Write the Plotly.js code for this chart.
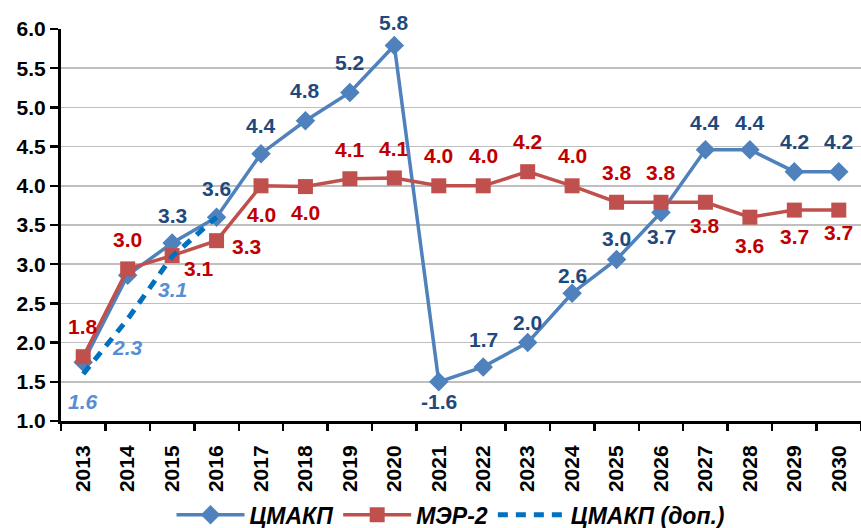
<!DOCTYPE html>
<html>
<head>
<meta charset="utf-8">
<script src="https://cdn.plot.ly/plotly-3.0.1.min.js"></script>
<style>
  html, body { margin: 0; padding: 0; background: #fff; }
  #plot { width: 861px; height: 528px; }
</style>
</head>
<body>
<div id="plot"></div>
<script>
const years = ['2013','2014','2015','2016','2017','2018','2019','2020','2021',
               '2022','2023','2024','2025','2026','2027','2028','2029','2030'];

// ЦМАКП (2021 shown clipped at the axis bottom, labelled -1.6)
const cmakp = [1.75, 2.86, 3.27, 3.6, 4.41, 4.83, 5.19, 5.79, 1.5,
               1.69, 2.0, 2.63, 3.06, 3.66, 4.46, 4.46, 4.18, 4.18];
const cmakpLabels = ['', '', '3.3', '3.6', '4.4', '4.8', '5.2', '5.8', '-1.6',
                     '1.7', '2.0', '2.6', '3.0', '3.7', '4.4', '4.4', '4.2', '4.2'];

// МЭР-2
const mer = [1.82, 2.94, 3.11, 3.3, 4.0, 3.99, 4.09, 4.1, 4.0,
             4.0, 4.18, 4.0, 3.79, 3.79, 3.79, 3.6, 3.69, 3.69];
const merLabels = ['1.8', '3.0', '3.1', '3.3', '4.0', '4.0', '4.1', '4.1', '4.0',
                   '4.0', '4.2', '4.0', '3.8', '3.8', '3.8', '3.6', '3.7', '3.7'];

// ЦМАКП (доп.)
const dopYears = ['2013', '2014', '2015', '2016'];
const dop = [1.6, 2.3, 3.1, 3.6];
const dopLabels = ['1.6', '2.3', '3.1', ''];

// label offsets in px (dx right, dy down)
const cmakpDy = [0, 0, -28, -29, -28, -30, -30, -23, 20, -27, -20, -18, -21, 24, -27, -27, -30, -30];
const merDx = [0, 0, 27, 30, 0, 0, 0, 0, 0, 0, 0, 0, 0, 0, 0, 0, 0, 0];
const merDy = [-30, -29, 13, 6, 29, 26, -29, -29, -30, -30, -30, -30, -30, -30, 23, 28, 26, 22];
const dopDy = [28, 28, 33, 0];

const FONT = 'Liberation Sans, Arial, sans-serif';
const BLUE = '#4F81BD', RED = '#C0504D', DASH = '#0070C0';

// annotations on a category axis take the category index
function labels(xs, ys, texts, dx, dy, color, style) {
  return texts.map((t, i) => ({
    x: years.indexOf(xs[i]), y: ys[i], text: t, showarrow: false,
    xshift: dx ? dx[i] : 0, yshift: -dy[i],
    font: { family: FONT, size: 21, color: color, weight: 'bold', style: style || 'normal' }
  })).filter(a => a.text !== '');
}

const annotations = [
  ...labels(years, cmakp, cmakpLabels, null, cmakpDy, '#1F497D'),
  ...labels(years, mer, merLabels, merDx, merDy, '#C00000'),
  ...labels(dopYears, dop, dopLabels, null, dopDy, '#558ED5', 'italic')
];

Plotly.newPlot('plot', [
  { x: years, y: cmakp, name: 'ЦМАКП', mode: 'lines+markers', cliponaxis: false,
    line: { color: BLUE, width: 3.5 },
    marker: { symbol: 'diamond', size: 15, color: BLUE } },
  { x: years, y: mer, name: 'МЭР-2', mode: 'lines+markers', cliponaxis: false,
    line: { color: RED, width: 3.5 },
    marker: { symbol: 'square', size: 15, color: RED } },
  { x: dopYears, y: dop, name: 'ЦМАКП (доп.)', mode: 'lines', cliponaxis: false,
    line: { color: DASH, width: 5, dash: '10px,8px' } }
], {
  width: 861, height: 528,
  margin: { t: 29, l: 61, r: 0, b: 107 },
  paper_bgcolor: '#fff', plot_bgcolor: '#fff',
  font: { family: FONT, color: '#000' },
  xaxis: {
    type: 'category', range: [-0.5, 17.5], tickangle: -90, automargin: false,
    tickson: 'boundaries', ticks: 'outside', ticklen: 7, tickwidth: 2.5, tickcolor: '#000',
    ticklabelstandoff: 13,
    showline: true, linecolor: '#000', linewidth: 3, showgrid: false,
    tickfont: { family: FONT, size: 21, color: '#000', weight: 'bold' }
  },
  yaxis: {
    range: [1, 6], dtick: 0.5, tickformat: '.1f', automargin: false,
    ticks: 'outside', ticklen: 8, tickwidth: 2.5, tickcolor: '#000',
    showline: true, linecolor: '#000', linewidth: 3,
    gridcolor: '#BFBFBF', gridwidth: 1.5, zeroline: false,
    tickfont: { family: FONT, size: 21, color: '#000', weight: 'bold' }
  },
  showlegend: true,
  legend: {
    orientation: 'h', x: 0.4875, xanchor: 'center',
    yref: 'container', y: 0.025, yanchor: 'middle',
    itemwidth: 68,
    font: { family: FONT, size: 23, color: '#000', weight: 'bold', style: 'italic' }
  },
  annotations: annotations
}, { displayModeBar: false, staticPlot: true });
</script>
</body>
</html>
